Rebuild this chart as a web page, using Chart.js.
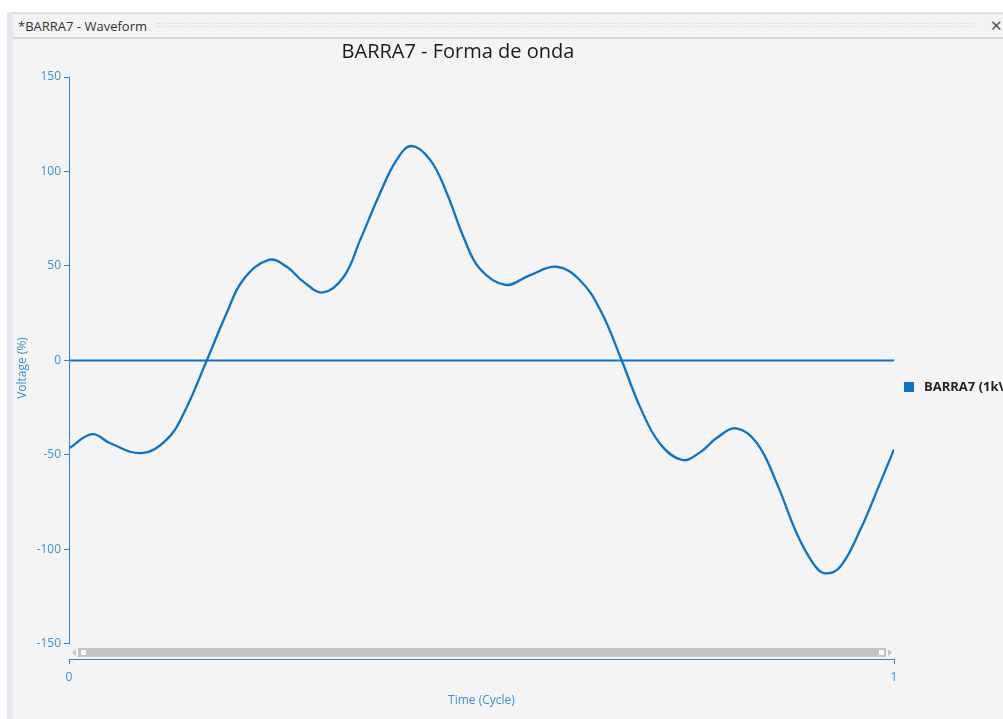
<!DOCTYPE html>
<html>
<head>
<meta charset="utf-8">
<script src="https://cdn.jsdelivr.net/npm/chart.js@4.4.1/dist/chart.umd.min.js"></script>
<style>
  html, body { margin: 0; padding: 0; width: 1003px; height: 719px; overflow: hidden; background: #ffffff; font-family: "Open Sans", sans-serif; }
  #frame { position: absolute; left: 7px; top: 12px; width: 996px; height: 707px; background: #e6e6ee; }
  #panel { position: absolute; left: 13px; top: 13px; width: 990px; height: 706px; background: #f4f4f4; }
  #tab { position: absolute; left: 13px; top: 13px; width: 990px; height: 23px; background: #f3f3f5; border-top: 1px solid #d8d8e4; border-bottom: 2px solid #d6d6e2; }
  #tabTitle { position: absolute; left: 5px; top: 3px; font-size: 13px; color: #333; }
  #grip { position: absolute; left: 142px; top: 8px; width: 820px; height: 7px;
          background-image: radial-gradient(circle, #c9c9cf 0.8px, transparent 1px); background-size: 3px 3px; }
  #closeX { position: absolute; left: 977px; top: 1px; font-size: 15px; color: #555; }
  #chart { position: absolute; left: 0; top: 0; }
</style>
</head>
<body>
<div id="frame"></div>
<div id="panel"></div>
<div id="tab"><span id="tabTitle">*BARRA7 - Waveform</span><div id="grip"></div><span id="closeX">✕</span></div>
<canvas id="chart" width="1003" height="719"></canvas>
<script>
"use strict";

// time in cycles (x) and voltage in % (y)
var timeCycle = [0, 0.028, 0.050, 0.088, 0.118, 0.139, 0.167, 0.191, 0.211, 0.242,
  0.264, 0.284, 0.308, 0.333, 0.353, 0.377, 0.397, 0.415, 0.438, 0.458,
  0.478, 0.498, 0.529, 0.559, 0.591, 0.619, 0.644, 0.670, 0.692, 0.716,
  0.743, 0.765, 0.785, 0.809, 0.834, 0.858, 0.882, 0.902, 0.916, 0.935,
  0.959, 0.983, 1];
var voltagePct = [-46.5, -39, -43.8, -49, -42, -28, 0, 25, 42.6, 53.2,
  49.6, 41.7, 36, 44.3, 63.8, 88.5, 106, 113.5, 106, 88.5,
  65.5, 48.5, 40, 45.2, 49.6, 42.6, 26.7, 0, -24.4, -43.8,
  -52.6, -48.6, -41, -35.9, -43.8, -65, -91.4, -107.3, -112.6, -109,
  -89.7, -65, -47];
var zeroTime = [0, 1];
var zeroValue = [0, 0];
var yTicks = [-150, -100, -50, 0, 50, 100, 150];
var xTicks = [0, 1];

var seriesName = "BARRA7 (1kV)";
var lineColor = "#0d73c9";
var axisColor = "#3282cc";
var labelColor = "#3c8fd8";
var fontFamily = "'Open Sans', sans-serif";

function toPoints(xs, ys) {
  return xs.map(function(v, i) { return { x: v, y: ys[i] }; });
}

var chromePlugin = {
  id: "chrome",
  afterDraw: function(chart) {
    var ctx = chart.ctx;
    var area = chart.chartArea;
    var yScale = chart.scales.y;
    var top = yScale.getPixelForValue(yTicks[yTicks.length - 1]);
    var bottom = yScale.getPixelForValue(yTicks[0]);
    ctx.save();

    // y axis line, only over the tick range
    ctx.strokeStyle = axisColor;
    ctx.lineWidth = 1;
    var ax = Math.round(area.left) + 0.5;
    ctx.beginPath();
    ctx.moveTo(ax, top);
    ctx.lineTo(ax, bottom);
    ctx.stroke();

    // scroll bar between plot and x axis
    var barTop = bottom + 4;
    ctx.fillStyle = "#c3c3c3";
    ctx.fillRect(area.left + 9, barTop, area.right - area.left - 17, 9);
    ctx.fillStyle = "#ffffff";
    ctx.fillRect(area.left + 12, barTop + 2, 5, 5);
    ctx.fillRect(area.right - 15, barTop + 2, 5, 5);
    ctx.fillStyle = "#c6c6c6";
    ctx.beginPath();
    ctx.moveTo(area.left + 3, barTop + 4.5);
    ctx.lineTo(area.left + 7, barTop + 1);
    ctx.lineTo(area.left + 7, barTop + 8);
    ctx.fill();
    ctx.beginPath();
    ctx.moveTo(area.right - 2, barTop + 4.5);
    ctx.lineTo(area.right - 6, barTop + 1);
    ctx.lineTo(area.right - 6, barTop + 8);
    ctx.fill();

    // legend
    var ds = chart.data.datasets[0];
    ctx.fillStyle = ds.borderColor;
    ctx.fillRect(area.right + 10, 382, 10, 10);
    ctx.fillStyle = "#222222";
    ctx.font = "bold 13px " + fontFamily;
    ctx.textBaseline = "middle";
    ctx.fillText(ds.label, area.right + 30, 387);
    ctx.restore();
  }
};

new Chart(document.getElementById("chart"), {
  type: "line",
  data: {
    datasets: [{
      label: seriesName,
      data: toPoints(timeCycle, voltagePct),
      borderColor: lineColor,
      borderWidth: 2.3,
      pointRadius: 0,
      tension: 0.4,
      fill: false
    }, {
      label: "zero",
      data: toPoints(zeroTime, zeroValue),
      borderColor: lineColor,
      borderWidth: 2,
      pointRadius: 0,
      fill: false
    }]
  },
  options: {
    responsive: false,
    animation: false,
    devicePixelRatio: 1,
    layout: { padding: { left: 22, right: 109, top: 38, bottom: 0 } },
    plugins: {
      legend: { display: false },
      tooltip: { enabled: false },
      title: {
        display: true,
        text: "BARRA7 - Forma de onda",
        color: "#1b1b1b",
        font: { family: fontFamily, size: 20, weight: "normal" },
        padding: { top: 2, bottom: 13 }
      }
    },
    scales: {
      x: {
        type: "linear",
        min: xTicks[0],
        max: xTicks[1],
        afterFit: function(scale) { scale.height = 60; },
        border: { display: true, color: axisColor, width: 1 },
        grid: { drawOnChartArea: false, drawTicks: true, tickLength: 5, color: axisColor },
        ticks: { stepSize: 1, color: labelColor, padding: 6, font: { family: fontFamily, size: 12 } },
        title: {
          display: true,
          text: "Time (Cycle)",
          color: labelColor,
          font: { family: fontFamily, size: 12 },
          padding: { top: 0, bottom: 11 }
        }
      },
      y: {
        type: "linear",
        min: -157.94,
        max: 150,
        afterFit: function(scale) { scale.width = 47; },
        border: { display: false },
        grid: { drawOnChartArea: false, drawTicks: true, tickLength: 5, color: axisColor },
        ticks: {
          stepSize: 50,
          includeBounds: false,
          color: labelColor,
          padding: 3,
          font: { family: fontFamily, size: 12 }
        },
        title: {
          display: true,
          text: "Voltage (%)",
          color: labelColor,
          font: { family: fontFamily, size: 12 },
          padding: { top: -7, bottom: 0 }
        }
      }
    }
  },
  plugins: [chromePlugin]
});
</script>
</body>
</html>
